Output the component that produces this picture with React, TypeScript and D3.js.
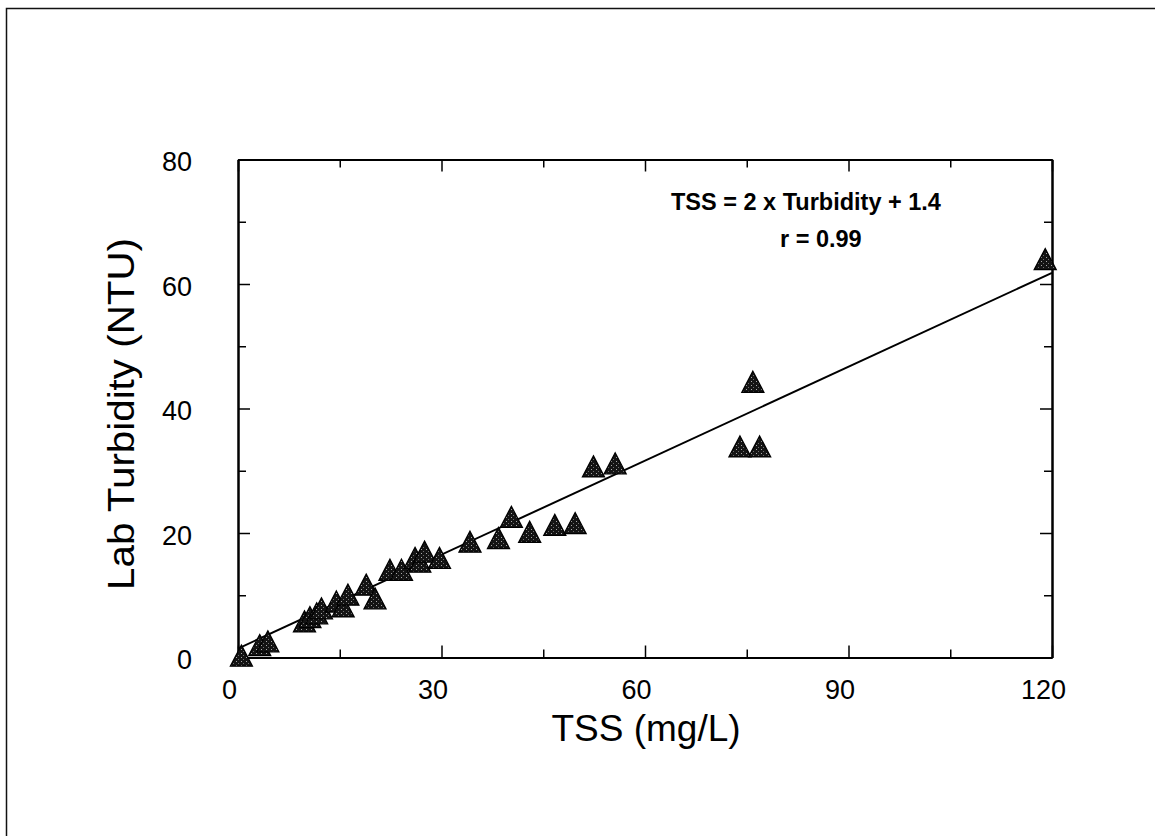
import { useRef, useEffect } from 'react'
import * as d3 from 'd3'

// TSS (mg/L) and lab turbidity (NTU)
const tss = [
  0.5, 3.2, 4.4, 9.8, 10.6, 11.6, 12.3, 14.5, 15.5, 16.2, 18.9, 20.2, 22.4, 24.1, 26.1,
  26.8, 27.5, 29.7, 34.2, 38.4, 40.3, 43.0, 46.7, 49.7, 52.4, 55.6, 74.0, 75.9, 76.9, 119,
]
const turbidity = [
  0.3, 2.0, 2.6, 5.8, 6.5, 7.1, 7.9, 9.0, 8.2, 10.1, 11.7, 9.5, 14.1, 14.1, 16.0,
  15.4, 17.0, 16.0, 18.6, 19.2, 22.6, 20.2, 21.3, 21.6, 30.7, 31.2, 33.9, 44.3, 33.9, 64,
]

// regression line end points
const fitX = [0, 120]
const fitY = [1.44, 61.8]

const xTicks = [0, 30, 60, 90, 120]
const xMinorTicks = [15, 45, 75, 105]
const yTicks = [0, 20, 40, 60, 80]
const yMinorTicks = [10, 30, 50, 70]

const xTitle = 'TSS (mg/L)'
const yTitle = 'Lab Turbidity (NTU)'
const equationText = 'TSS = 2 x Turbidity + 1.4'
const rText = 'r = 0.99'

const font = '"Liberation Sans", Arial, sans-serif'

const App = () => {
  const svgRef = useRef(null)

  useEffect(() => {
    const svg = d3.select(svgRef.current)
    svg.selectAll('*').remove()

    const left = 238
    const right = 1052
    const top = 159.5
    const bottom = 657.5

    const x = d3.scaleLinear().domain([0, 120]).range([left, right])
    const y = d3.scaleLinear().domain([0, 80]).range([bottom, top])

    // speckled marker fill
    const defs = svg.append('defs')
    const pat = defs
      .append('pattern')
      .attr('id', 'speckle')
      .attr('width', 5)
      .attr('height', 4)
      .attr('patternUnits', 'userSpaceOnUse')
    pat.append('rect').attr('width', 5).attr('height', 4).attr('fill', '#141414')
    pat.append('rect').attr('x', 1).attr('y', 1).attr('width', 1).attr('height', 1).attr('fill', '#a8a8a8')
    pat.append('rect').attr('x', 3).attr('y', 3).attr('width', 1).attr('height', 1).attr('fill', '#6e6e6e')

    // outer frame
    svg
      .append('rect')
      .attr('x', 6.5)
      .attr('y', 8.5)
      .attr('width', 1160)
      .attr('height', 840)
      .attr('fill', 'none')
      .attr('stroke', '#111')
      .attr('stroke-width', 1.5)

    const axisStyle = (g) => {
      g.selectAll('.domain').attr('stroke', '#000').attr('stroke-width', 2)
      g.selectAll('.tick line').attr('stroke', '#000').attr('stroke-width', 1.5)
      g.selectAll('text').attr('font-family', font).attr('font-size', 27).attr('fill', '#000')
    }

    const xAxisG = svg
      .append('g')
      .attr('transform', `translate(0,${bottom})`)
      .call(d3.axisBottom(x).tickValues(xTicks).tickSize(-12).tickSizeOuter(0).tickPadding(22))
      .call(axisStyle)
    xAxisG.selectAll('text').attr('dx', -9)
    svg
      .append('g')
      .attr('transform', `translate(0,${bottom})`)
      .call(d3.axisBottom(x).tickValues(xMinorTicks).tickSize(-8).tickSizeOuter(0).tickFormat(() => ''))
      .call(axisStyle)
    svg
      .append('g')
      .attr('transform', `translate(0,${top})`)
      .call(d3.axisTop(x).tickValues(xTicks).tickSize(-12).tickSizeOuter(0).tickFormat(() => ''))
      .call(axisStyle)
    svg
      .append('g')
      .attr('transform', `translate(0,${top})`)
      .call(d3.axisTop(x).tickValues(xMinorTicks).tickSize(-8).tickSizeOuter(0).tickFormat(() => ''))
      .call(axisStyle)

    const yAxisG = svg
      .append('g')
      .attr('transform', `translate(${left},0)`)
      .call(d3.axisLeft(y).tickValues(yTicks).tickSize(-12).tickSizeOuter(0).tickPadding(46))
      .call(axisStyle)
    yAxisG.selectAll('text').attr('dy', '0.42em')
    svg
      .append('g')
      .attr('transform', `translate(${left},0)`)
      .call(d3.axisLeft(y).tickValues(yMinorTicks).tickSize(-8).tickSizeOuter(0).tickFormat(() => ''))
      .call(axisStyle)
    svg
      .append('g')
      .attr('transform', `translate(${right},0)`)
      .call(d3.axisRight(y).tickValues(yTicks).tickSize(-12).tickSizeOuter(0).tickFormat(() => ''))
      .call(axisStyle)
    svg
      .append('g')
      .attr('transform', `translate(${right},0)`)
      .call(d3.axisRight(y).tickValues(yMinorTicks).tickSize(-8).tickSizeOuter(0).tickFormat(() => ''))
      .call(axisStyle)

    // regression line
    const lineGen = d3
      .line()
      .x((d) => x(d[0]))
      .y((d) => y(d[1]))
    svg
      .append('path')
      .attr('d', lineGen(d3.zip(fitX, fitY)))
      .attr('fill', 'none')
      .attr('stroke', '#000')
      .attr('stroke-width', 2)

    // triangles
    const w = 22
    const h = 21
    const tri = (cx, cy) => {
      const p = d3.path()
      p.moveTo(cx, cy - h / 2)
      p.lineTo(cx + w / 2, cy + h / 2)
      p.lineTo(cx - w / 2, cy + h / 2)
      p.closePath()
      return p.toString()
    }
    svg
      .append('g')
      .selectAll('path')
      .data(d3.zip(tss, turbidity))
      .join('path')
      .attr('d', (d) => tri(x(d[0]), y(d[1])))
      .attr('fill', 'url(#speckle)')
      .attr('stroke', '#000')
      .attr('stroke-width', 1.3)

    // annotation
    svg
      .append('text')
      .attr('x', 671)
      .attr('y', 210)
      .attr('font-family', font)
      .attr('font-weight', 'bold')
      .attr('font-size', 23.5)
      .text(equationText)
    svg
      .append('text')
      .attr('x', 780)
      .attr('y', 247)
      .attr('font-family', font)
      .attr('font-weight', 'bold')
      .attr('font-size', 23.5)
      .text(rText)

    // axis titles
    svg
      .append('text')
      .attr('x', 646)
      .attr('y', 741)
      .attr('text-anchor', 'middle')
      .attr('font-family', font)
      .attr('font-size', 37)
      .text(xTitle)
    svg
      .append('text')
      .attr('transform', `translate(134,414) rotate(-90)`)
      .attr('text-anchor', 'middle')
      .attr('font-family', font)
      .attr('font-size', 36)
      .attr('textLength', 352)
      .attr('lengthAdjust', 'spacingAndGlyphs')
      .text(yTitle)
  }, [])

  return (
    <div style={{ position: 'fixed', left: 0, top: 0 }}>
      <svg width="1155" height="836" ref={svgRef} style={{ display: 'block', background: '#fff' }}></svg>
    </div>
  )
}

export default App
